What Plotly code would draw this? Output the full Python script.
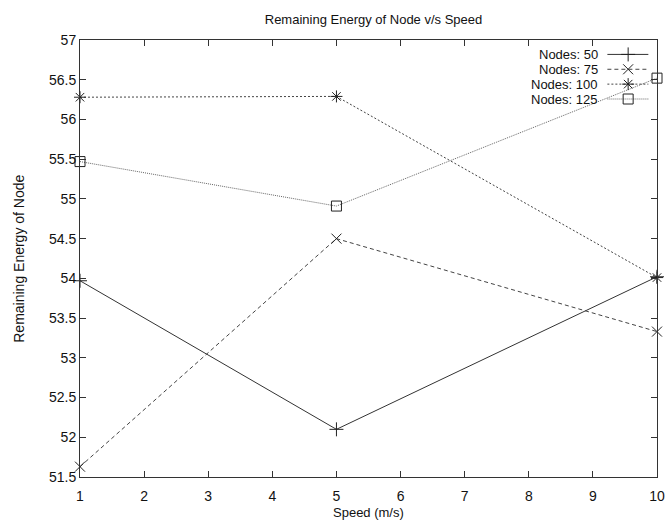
import plotly.graph_objects as go

speeds = [1, 5, 10]
series_names = ["Nodes: 50", "Nodes: 75", "Nodes: 100", "Nodes: 125"]
nodes50 = [53.97, 52.10, 54.02]
nodes75 = [51.63, 54.50, 53.33]
nodes100 = [56.28, 56.29, 54.01]
nodes125 = [55.47, 54.91, 56.52]
x_ticks = [1, 2, 3, 4, 5, 6, 7, 8, 9, 10]
y_ticks = [51.5, 52, 52.5, 53, 53.5, 54, 54.5, 55, 55.5, 56, 56.5, 57]

values = [nodes50, nodes75, nodes100, nodes125]
dashes = ["solid", "4px,3px", "2px,2px", "1px,1px"]
colors = ["#333333", "#444444", "#444444", "#666666"]
symbols = ["cross-thin-open", "x-thin-open", "asterisk-open", "square-open"]
sizes = [10, 10, 10, 10]

FONT = "Liberation Sans, Arial, sans-serif"
TXT = "#111111"
fig = go.Figure()
for name, vals, d, c, s, sz in zip(series_names, values, dashes, colors, symbols, sizes):
    fig.add_trace(go.Scatter(
        x=speeds, y=vals, mode="lines+markers", name=name,
        line=dict(color=c, width=1, dash=d),
        marker=dict(symbol=s, size=sz, color="#222222", line=dict(color="#222222", width=1)),
        showlegend=False, cliponaxis=False,
    ))

# custom gnuplot-style legend (samples on the right of the text)
leg_rows = [0.967, 0.933, 0.899, 0.865]
for i, (name, d, c, s, sz) in enumerate(zip(series_names, dashes, colors, symbols, sizes)):
    fig.add_trace(go.Scatter(
        x=[0.914, 0.985], y=[leg_rows[i], leg_rows[i]], mode="lines",
        line=dict(color=c, width=1, dash=d), xaxis="x2", yaxis="y2",
        showlegend=False, hoverinfo="skip",
    ))
    fig.add_trace(go.Scatter(
        x=[0.950], y=[leg_rows[i]], mode="markers",
        marker=dict(symbol=s, size=sz, color="#222222", line=dict(color="#222222", width=1)),
        xaxis="x2", yaxis="y2", showlegend=False, hoverinfo="skip",
    ))
    fig.add_annotation(
        x=0.902, y=leg_rows[i], xref="x2", yref="y2", text=name, showarrow=False,
        xanchor="right", yanchor="middle", font=dict(family=FONT, size=13, color=TXT),
    )

# axis titles
fig.add_annotation(x=0.5, y=-0.081, xref="paper", yref="paper", text="Speed (m/s)",
                   showarrow=False, xanchor="center", yanchor="middle",
                   font=dict(family=FONT, size=13, color=TXT))
fig.add_annotation(x=-0.107, y=0.5, xref="paper", yref="paper", text="Remaining Energy of Node",
                   showarrow=False, xanchor="center", yanchor="middle", textangle=-90,
                   font=dict(family=FONT, size=14, color=TXT))

axis_common = dict(
    showgrid=False, zeroline=False, showline=True, linecolor="#333333", linewidth=1,
    mirror="allticks", ticks="inside", ticklen=6, tickcolor="#333333", tickwidth=1,
    tickfont=dict(family=FONT, size=14, color=TXT), automargin=False,
)
fig.update_layout(
    width=667, height=522,
    margin=dict(l=80, r=10, t=40, b=45),
    paper_bgcolor="white", plot_bgcolor="white",
    title=dict(text="Remaining Energy of Node v/s Speed", x=0.56, xanchor="center",
               y=0.963, yanchor="middle", font=dict(family=FONT, size=13, color=TXT)),
    xaxis=dict(range=[1, 10], tickvals=x_ticks, ticktext=[str(t) for t in x_ticks],
               ticklabelstandoff=6, **axis_common),
    yaxis=dict(range=[51.5, 57], tickvals=y_ticks, ticktext=[f"{t:g}" for t in y_ticks],
               **axis_common),
    xaxis2=dict(range=[0, 1], overlaying="x", visible=False, fixedrange=True),
    yaxis2=dict(range=[0, 1], overlaying="y", visible=False, fixedrange=True),
    showlegend=False,
)
fig.write_html("out.html")
